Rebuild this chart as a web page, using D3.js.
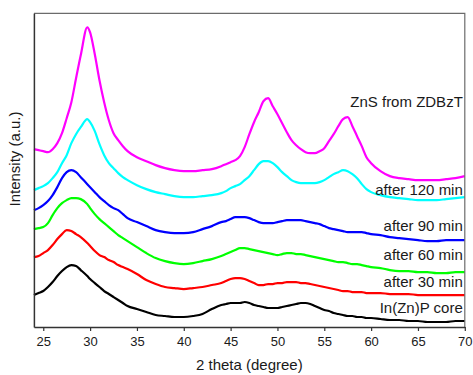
<!DOCTYPE html>
<html>
<head>
<meta charset="UTF-8">
<script src="https://d3js.org/d3.v7.min.js"></script>
<style>
    body { margin: 0; background: #fff; }
    text { font-family: "Liberation Sans", Arial, sans-serif; fill: #1a1a1a; }
</style>
</head>
<body>
<svg></svg>
<script>
    let width = 473, height = 375;
    let margin = { top: 13.3, right: 8.2, bottom: 48, left: 33.9 };

    // 2 theta grid (degree)
    const twoTheta = [24, 24.5, 25, 25.5, 26, 26.5, 27, 27.5, 28, 28.5, 29, 29.7, 30, 30.5, 31, 31.5, 32, 32.5, 33, 33.5, 34,
        35, 36, 37, 38, 39, 40, 41, 42, 43, 44,
        44.5, 45, 45.5, 46, 46.5, 47, 47.5, 48, 48.5, 49, 49.5, 50, 50.5, 51, 51.5, 52, 52.5, 53, 53.5, 54, 54.5, 55, 55.5, 56, 56.5, 57, 57.5, 58, 58.5, 59, 59.5, 60,
        61, 62, 63, 64, 65, 66, 67, 68, 69, 70];

    // intensities as plotted (stacked, a.u.)
    const znsZdbzt = [178, 177, 176, 175, 178, 184, 194, 209, 225, 249, 272, 300, 295, 273, 247, 225, 207, 194, 187, 181, 176,
        170, 166, 162, 159, 157, 156, 156, 157, 158, 161,
        163, 165, 167, 171, 180, 193, 205, 215, 226, 229, 221, 213, 204, 195, 187, 182, 178, 175, 174, 174, 176, 179, 186, 193, 201, 208, 210, 201, 191, 181, 170, 164,
        156, 151, 149, 148, 147, 147, 147, 148, 149, 151];
    const after120 = [137, 139, 141, 144, 149, 155, 164, 172, 184, 193, 200, 208, 205, 196, 183, 172, 164, 159, 154, 150, 147,
        142, 138, 135, 133, 131, 130, 130, 131, 132, 134,
        136, 139, 141, 143, 147, 151, 157, 163, 166, 166, 164, 160, 155, 151, 147, 145, 144, 144, 144, 144, 145, 147, 150, 153, 155, 157, 156, 153, 149, 143, 138, 135,
        132, 130, 129, 128, 127, 127, 127, 128, 129, 130];
    const after90 = [117, 119, 122, 126, 132, 140, 149, 155, 157, 155, 150, 143, 140, 135, 130, 126, 122, 119, 117, 113, 109,
        105, 101, 97, 95, 94, 94, 95, 98, 101, 105,
        106, 108, 110, 110, 110, 109, 107, 105, 104, 104, 104, 105, 106, 107, 107, 107, 107, 106, 105, 104, 103, 101, 99, 98, 97, 96, 95, 95, 95, 95, 94, 93,
        92, 90, 89, 88, 87, 86, 86, 87, 87, 87];
    const after60 = [98, 99, 100, 104, 112, 119, 124, 127, 129, 129, 128, 123, 119, 113, 108, 104, 100, 96, 92, 89, 86,
        80, 74, 69, 66, 64, 63, 64, 66, 68, 71,
        73, 75, 77, 79, 79, 78, 77, 76, 75, 74, 73, 72, 73, 74, 74, 73, 73, 72, 71, 70, 69, 68, 67, 66, 65, 65, 64, 63, 63, 62, 61, 60,
        59, 57, 56, 56, 55, 55, 54, 54, 55, 55];
    const after30 = [70, 71, 74, 77, 82, 88, 93, 97, 96, 93, 90, 84, 81, 76, 72, 70, 67, 65, 62, 60, 58,
        53, 47, 43, 40, 39, 38, 39, 40, 42, 44,
        46, 48, 49, 49, 48, 46, 44, 42, 42, 43, 43, 44, 44, 45, 45, 45, 44, 44, 43, 42, 41, 40, 39, 38, 37, 36, 36, 35, 35, 35, 34, 34,
        34, 33, 33, 33, 32, 32, 32, 32, 32, 32];
    const inznpCore = [32, 34, 36, 40, 45, 51, 56, 60, 62, 61, 57, 51, 48, 44, 40, 36, 33, 30, 27, 24, 21,
        18, 15, 12, 11, 10, 10, 11, 13, 18, 22,
        23, 24, 24, 24, 25, 24, 22, 21, 20, 19, 19, 19, 20, 21, 22, 23, 24, 24, 23, 21, 19, 17, 16, 14, 13, 12, 11, 11, 10, 10, 9, 9,
        8, 7, 7, 6, 6, 5, 5, 5, 6, 6];

    const seriesNames = ["ZnS from ZDBzT", "after 120 min", "after 90 min", "after 60 min", "after 30 min", "In(Zn)P core"];
    const seriesColors = ["#ff00ff", "#00ffff", "#0000ff", "#00ff00", "#ff0000", "#000000"];
    const seriesValues = [znsZdbzt, after120, after90, after60, after30, inznpCore];
    const labelAt = [220, 132, 96, 67, 40, 14];   // label baseline, a.u.
    const xTicks = [25, 30, 35, 40, 45, 50, 55, 60, 65, 70];

    let svg = d3.select("svg")
        .attr("width", width)
        .attr("height", height);

    let x = d3.scaleLinear()
        .domain([24, 70])
        .range([margin.left, width - margin.right]);

    let y = d3.scaleLinear()
        .domain([0, 314])
        .range([height - margin.bottom, margin.top]);

    let line = d3.line()
        .x(d => x(d[0]))
        .y(d => y(d[1]))
        .curve(d3.curveMonotoneX);

    // curves
    svg.append("g")
        .selectAll("path")
        .data(seriesValues)
        .join("path")
        .attr("d", vals => line(twoTheta.map((t, i) => [t, vals[i]])))
        .attr("fill", "none")
        .attr("stroke", (d, i) => seriesColors[i])
        .attr("stroke-width", 2.2)
        .attr("stroke-linejoin", "round");

    // frame: top / right light
    svg.append("path")
        .attr("d", "M" + x(24) + "," + y(314) + "H" + x(70) + "V" + y(0))
        .attr("fill", "none")
        .attr("stroke", "#6b6b6b")
        .attr("stroke-width", 1.2);

    // bottom axis
    let xAxis = d3.axisBottom(x)
        .tickValues(xTicks)
        .tickSize(4)
        .tickPadding(6)
        .tickSizeOuter(0);

    let gx = svg.append("g")
        .attr("transform", "translate(0," + y(0) + ")")
        .call(xAxis);
    gx.select(".domain").attr("stroke", "#333").attr("stroke-width", 1.5);
    gx.selectAll(".tick line").attr("stroke", "#333").attr("stroke-width", 1.2);
    gx.selectAll(".tick text")
        .style("font-family", "'Liberation Sans', Arial, sans-serif")
        .style("font-size", "13px")
        .attr("fill", "#1a1a1a");

    // left axis line, no ticks
    let yAxis = d3.axisLeft(y).tickValues([]).tickSizeOuter(0);
    let gy = svg.append("g")
        .attr("transform", "translate(" + x(24) + ",0)")
        .call(yAxis);
    gy.select(".domain").attr("stroke", "#333").attr("stroke-width", 1.5);

    // series labels
    svg.append("g")
        .selectAll("text")
        .data(seriesNames)
        .join("text")
        .attr("x", x(70) - 2)
        .attr("y", (d, i) => y(labelAt[i]))
        .attr("text-anchor", "end")
        .style("font-size", "15px")
        .text(d => d);

    // axis titles
    svg.append("text")
        .attr("x", (x(24) + x(70)) / 2)
        .attr("y", 370)
        .attr("text-anchor", "middle")
        .style("font-size", "15px")
        .text("2 theta (degree)");

    svg.append("text")
        .attr("transform", "translate(20," + 159 + ") rotate(-90)")
        .attr("text-anchor", "middle")
        .style("font-size", "15px")
        .text("Intensity (a.u.)");
</script>
</body>
</html>
